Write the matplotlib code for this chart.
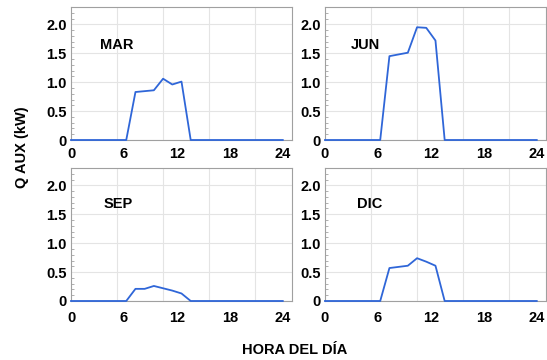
import matplotlib
matplotlib.use("Agg")
import matplotlib.pyplot as plt
from matplotlib.ticker import MultipleLocator, FixedLocator

# --- Data (hourly auxiliary heat, kW, index 0..23) ---
HOURS = list(range(24))
Q_MAR = [0, 0, 0, 0, 0, 0, 0, 0.83, 0.845, 0.86, 1.06, 0.96, 1.01, 0,
         0, 0, 0, 0, 0, 0, 0, 0, 0, 0]
Q_JUN = [0, 0, 0, 0, 0, 0, 0, 1.45, 1.48, 1.51, 1.95, 1.94, 1.72, 0,
         0, 0, 0, 0, 0, 0, 0, 0, 0, 0]
Q_SEP = [0, 0, 0, 0, 0, 0, 0, 0.21, 0.21, 0.26, 0.22, 0.18, 0.13, 0,
         0, 0, 0, 0, 0, 0, 0, 0, 0, 0]
Q_DIC = [0, 0, 0, 0, 0, 0, 0, 0.57, 0.59, 0.61, 0.74, 0.68, 0.61, 0,
         0, 0, 0, 0, 0, 0, 0, 0, 0, 0]

MONTHS = ["MAR", "JUN", "SEP", "DIC"]
SERIES = [Q_MAR, Q_JUN, Q_SEP, Q_DIC]

X_TICK_LABELS = ["0", "6", "12", "18", "24"]
Y_TICKS = [0, 0.5, 1.0, 1.5, 2.0]
Y_TICK_LABELS = ["0", "0.5", "1.0", "1.5", "2.0"]

# --- Style ---
LINE_COLOR = "#2f66d8"
FRAME_COLOR = "#a0a0a0"
GRID_COLOR = "#e4e4e4"
FONT = "Liberation Sans"
TICK_SIZE = 10.5
TEXT_SIZE = 10.5

plt.rcParams["font.family"] = FONT
plt.rcParams["font.weight"] = "bold"

fig = plt.figure(figsize=(5.47, 3.6), dpi=100)

# axes rectangles (left, bottom, width, height)
W, H = 0.404, 0.3694
rects = [
    (0.1298, 0.6111, W, H),
    (0.5941, 0.6111, W, H),
    (0.1298, 0.1639, W, H),
    (0.5941, 0.1639, W, H),
]
label_pos = [(5.0, 1.65), (4.4, 1.64), (5.1, 1.67), (4.9, 1.68)]

for i, (rect, month, q, (tx, ty)) in enumerate(zip(rects, MONTHS, SERIES, label_pos)):
    ax = fig.add_axes(rect)
    ax.plot(HOURS, q, color=LINE_COLOR, lw=1.3, zorder=3, clip_on=False)
    ax.set_xlim(0, 24)
    ax.set_ylim(0, 2.3)

    # labels placed on a 23/24 scale, grid on every 5 points
    ax.xaxis.set_major_locator(FixedLocator([h * 23 / 24 for h in (0, 6, 12, 18, 24)]))
    ax.set_xticklabels(X_TICK_LABELS)
    ax.xaxis.set_minor_locator(FixedLocator([5, 10, 15, 20]))
    ax.set_yticks(Y_TICKS)
    ax.set_yticklabels(Y_TICK_LABELS)
    ax.yaxis.set_minor_locator(MultipleLocator(0.1))

    ax.grid(True, which="minor", axis="x", color=GRID_COLOR, lw=0.8)
    ax.grid(True, which="major", axis="y", color=GRID_COLOR, lw=0.8)
    ax.set_axisbelow(True)

    xpad = 5 if i < 2 else 7
    ax.tick_params(axis="x", which="both", length=0, pad=xpad, labelsize=TICK_SIZE)
    ax.tick_params(axis="y", which="major", length=0, pad=3, labelsize=TICK_SIZE)
    ax.tick_params(axis="y", which="minor", direction="in", length=2,
                   width=0.5, color="#909090")
    for lab in ax.get_xticklabels() + ax.get_yticklabels():
        lab.set_fontweight("bold")

    for sp in ax.spines.values():
        sp.set_color(FRAME_COLOR)
        sp.set_linewidth(0.8)

    ax.text(tx, ty, month, ha="center", va="center", fontsize=TEXT_SIZE,
            fontweight="bold")

fig.text(0.040, 0.592, "Q AUX (kW)", rotation=90, ha="center", va="center",
         fontsize=TEXT_SIZE, fontweight="bold")
fig.text(0.539, 0.028, "HORA DEL DÍA", ha="center", va="center",
         fontsize=TEXT_SIZE, fontweight="bold")

fig.savefig("out.png", dpi=100)
